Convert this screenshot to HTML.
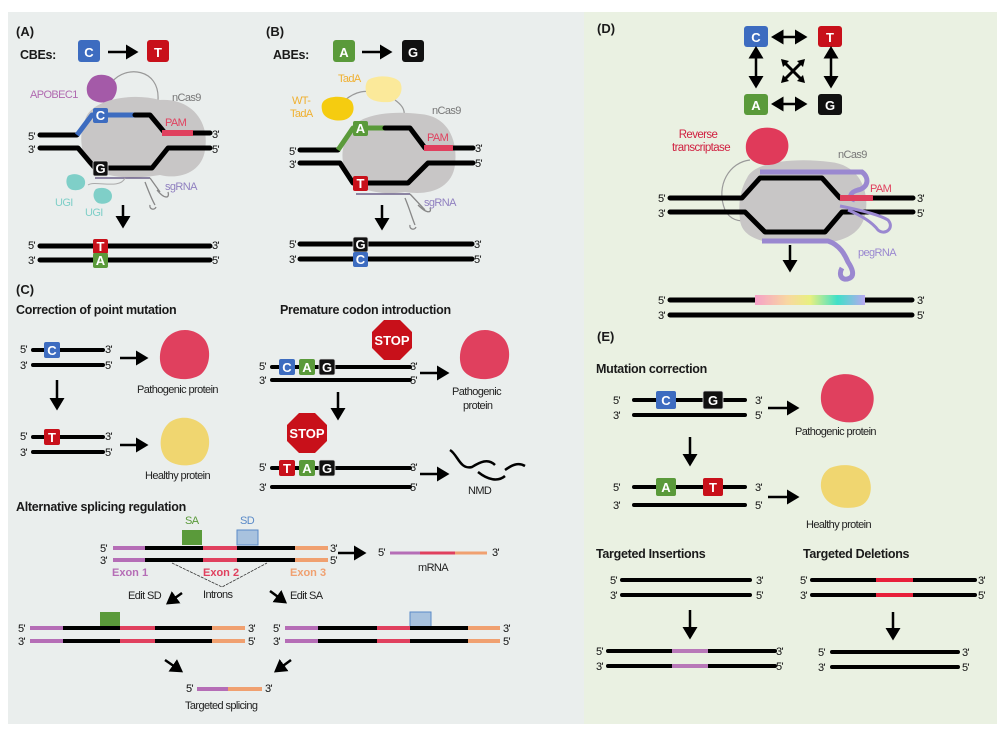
<!DOCTYPE html>
<html><head><meta charset="utf-8"><style>
html,body{margin:0;padding:0;background:#fff;}
svg{display:block;}
text{font-family:"Liberation Sans",sans-serif;}
.p{font-size:11px;fill:#111;letter-spacing:-0.6px;}
.h{font-size:12.5px;font-weight:bold;fill:#1a1a1a;letter-spacing:-0.3px;}
.lab{font-size:13px;fill:#1a1a1a;}
.n{font-size:11px;fill:#222;letter-spacing:-0.6px;}
.bx{font-size:13px;font-weight:bold;fill:#fff;text-anchor:middle;}
.bk{stroke:#000;stroke-width:5;fill:none;stroke-linecap:round;stroke-linejoin:round;}
.bk4{stroke:#000;stroke-width:4;fill:none;stroke-linecap:round;}
</style></head><body>
<svg width="1003" height="740" viewBox="0 0 1003 740" xmlns="http://www.w3.org/2000/svg">
<rect x="0" y="0" width="1003" height="740" fill="#fff"/>
<rect x="8" y="12" width="576" height="712" fill="#eaeeed"/>
<rect x="584" y="12" width="413" height="712" fill="#eaf1e2"/>
<defs>
<marker id="ah" markerWidth="6" markerHeight="6" refX="4" refY="3" orient="auto" markerUnits="strokeWidth"><path d="M0,0 L5,3 L0,6 Z" fill="#000"/></marker>
<marker id="as" markerWidth="6" markerHeight="6" refX="1" refY="3" orient="auto-start-reverse" markerUnits="strokeWidth"><path d="M0,0 L5,3 L0,6 Z" fill="#000"/></marker>
</defs>

<!-- ===== Panel A ===== -->
<text x="16" y="36" class="lab" font-weight="bold">(A)</text>
<text x="20" y="59" class="h">CBEs:</text>
<rect x="78" y="40" width="22" height="22" rx="3" fill="#3d6cc0"/><text x="89" y="57" class="bx" font-size="16">C</text>
<line x1="108" y1="52" x2="136" y2="52" stroke="#000" stroke-width="2.5" marker-end="url(#ah)"/>
<rect x="147" y="40" width="22" height="22" rx="3" fill="#c8101a"/><text x="158" y="57" class="bx" font-size="16">T</text>
<path d="M112,82 C125,65 160,68 158,100" stroke="#999" stroke-width="1.2" fill="none"/>
<path d="M90,80 C95,72 110,74 114,80 C120,86 116,100 108,102 C98,104 88,100 87,92 C86,86 88,83 90,80Z" fill="#a45aa8"/>
<text x="30" y="98" font-size="11" fill="#b06ab0" letter-spacing="-0.6">APOBEC1</text>
<path d="M85,120 C90,100 130,92 160,100 C190,98 210,120 205,150 C202,172 180,180 160,175 C130,180 95,178 85,160 C80,145 80,130 85,120Z" fill="#c8c6c6"/>
<text x="172" y="101" font-size="11" fill="#777" letter-spacing="-0.6">nCas9</text>
<path d="M40,135 L77,135" class="bk"/>
<path d="M77,135 L92,115 L135,115" stroke="#3d6cc0" stroke-width="5" fill="none" stroke-linejoin="round"/>
<path d="M135,115 L150,115 L165,133 L210,133" class="bk"/>
<line x1="162" y1="133" x2="193" y2="133" stroke="#e0405e" stroke-width="6"/>
<text x="165" y="126" font-size="11" fill="#e0405e" letter-spacing="-0.6">PAM</text>
<path d="M40,148 L78,148 L95,168 L152,168 L168,148 L210,148" class="bk"/>
<text x="28" y="140" class="p">5'</text><text x="212" y="138" class="p">3'</text>
<text x="28" y="153" class="p">3'</text><text x="212" y="153" class="p">5'</text>
<rect x="93" y="108" width="15" height="15" rx="2" fill="#3d6cc0"/><text x="100.5" y="120" class="bx" font-size="12">C</text>
<rect x="93" y="161" width="15" height="15" rx="2" fill="#111" stroke="#ddd" stroke-width="0.8"/><text x="100.5" y="173" class="bx" font-size="12">G</text>
<line x1="95" y1="178" x2="150" y2="178" stroke="#554477" stroke-width="1.2"/>
<path d="M150,178 L160,192 M145,182 C150,195 152,200 155,205 M157,190 C165,200 170,198 168,192 M150,205 a3,3 0 1 0 6,2" stroke="#888" stroke-width="1.3" fill="none"/>
<text x="165" y="190" font-size="11" fill="#9080c0" letter-spacing="-0.6">sgRNA</text>
<path d="M88,185 C95,180 120,190 125,178" stroke="#aaa" stroke-width="1" fill="none"/>
<path d="M68,176 C74,172 84,175 85,181 C86,188 80,191 73,190 C66,189 65,180 68,176Z" fill="#7fcfc8"/>
<path d="M96,189 C103,186 112,189 112,196 C112,203 104,205 98,203 C93,200 92,193 96,189Z" fill="#7fcfc8"/>
<text x="55" y="206" font-size="11" fill="#7fcfc8" letter-spacing="-0.6">UGI</text>
<text x="85" y="216" font-size="11" fill="#7fcfc8" letter-spacing="-0.6">UGI</text>
<line x1="123" y1="205" x2="123" y2="226" stroke="#000" stroke-width="2.5" marker-end="url(#ah)"/>
<path d="M40,246 L210,246 M40,260 L210,260" class="bk"/>
<text x="28" y="249" class="p">5'</text><text x="212" y="249" class="p">3'</text>
<text x="28" y="264" class="p">3'</text><text x="212" y="264" class="p">5'</text>
<rect x="93" y="239" width="15" height="15" rx="2" fill="#c8101a"/><text x="100.5" y="251" class="bx" font-size="12">T</text>
<rect x="93" y="253" width="15" height="15" rx="2" fill="#5a9a3a"/><text x="100.5" y="265" class="bx" font-size="12">A</text>

<!-- ===== Panel B ===== -->
<text x="266" y="36" class="lab" font-weight="bold">(B)</text>
<text x="273" y="59" class="h">ABEs:</text>
<rect x="333" y="40" width="22" height="22" rx="3" fill="#5a9a3a"/><text x="344" y="57" class="bx" font-size="16">A</text>
<line x1="362" y1="52" x2="390" y2="52" stroke="#000" stroke-width="2.5" marker-end="url(#ah)"/>
<rect x="402" y="40" width="22" height="22" rx="3" fill="#111"/><text x="413" y="57" class="bx" font-size="16">G</text>
<path d="M345,100 C360,88 370,92 375,92 M395,100 C402,105 405,110 404,115" stroke="#999" stroke-width="1.2" fill="none"/>
<path d="M368,80 C378,74 395,76 400,82 C404,90 400,100 390,102 C378,103 367,100 366,92 C365,86 366,83 368,80Z" fill="#fbe99a"/>
<text x="338" y="82" font-size="11" fill="#f0b030" letter-spacing="-0.6">TadA</text>
<path d="M325,100 C332,95 348,96 352,102 C356,110 352,118 344,120 C334,122 323,118 322,110 C321,105 322,102 325,100Z" fill="#f5cc10"/>
<text x="292" y="104" font-size="11" fill="#f0b030" letter-spacing="-0.6">WT-</text>
<text x="290" y="117" font-size="11" fill="#f0b030" letter-spacing="-0.6">TadA</text>
<path d="M348,135 C352,115 390,110 420,114 C448,116 458,140 455,165 C452,188 430,196 405,192 C380,196 350,190 345,170 C340,155 343,145 348,135Z" fill="#c8c6c6"/>
<text x="432" y="114" font-size="11" fill="#777" letter-spacing="-0.6">nCas9</text>
<path d="M300,150 L338,150" class="bk"/>
<path d="M338,150 L353,128 L385,128" stroke="#5a9a3a" stroke-width="5" fill="none" stroke-linejoin="round"/>
<path d="M385,128 L410,128 L425,148 L473,148" class="bk"/>
<line x1="424" y1="148" x2="453" y2="148" stroke="#e0405e" stroke-width="6"/>
<text x="427" y="141" font-size="11" fill="#e0405e" letter-spacing="-0.6">PAM</text>
<path d="M300,163 L340,163 L353,183 L408,183 L428,163 L473,163" class="bk"/>
<text x="289" y="155" class="p">5'</text><text x="475" y="152" class="p">3'</text>
<text x="289" y="168" class="p">3'</text><text x="475" y="167" class="p">5'</text>
<rect x="353" y="121" width="15" height="15" rx="2" fill="#5a9a3a"/><text x="360.5" y="133" class="bx" font-size="12">A</text>
<rect x="353" y="176" width="15" height="15" rx="2" fill="#c8101a"/><text x="360.5" y="188" class="bx" font-size="12">T</text>
<line x1="356" y1="194" x2="410" y2="194" stroke="#554477" stroke-width="1.2"/>
<path d="M410,194 L425,210 M405,198 C410,210 412,218 415,225 M418,205 C428,215 432,212 430,208 M410,225 a3,3 0 1 0 6,2" stroke="#888" stroke-width="1.3" fill="none"/>
<text x="424" y="206" font-size="11" fill="#9080c0" letter-spacing="-0.6">sgRNA</text>
<line x1="382" y1="205" x2="382" y2="228" stroke="#000" stroke-width="2.5" marker-end="url(#ah)"/>
<path d="M300,244 L472,244 M300,259 L472,259" class="bk"/>
<text x="289" y="248" class="p">5'</text><text x="474" y="248" class="p">3'</text>
<text x="289" y="263" class="p">3'</text><text x="474" y="263" class="p">5'</text>
<rect x="353" y="237" width="15" height="15" rx="2" fill="#111" stroke="#ddd" stroke-width="0.8"/><text x="360.5" y="249" class="bx" font-size="12">G</text>
<rect x="353" y="252" width="15" height="15" rx="2" fill="#3d6cc0"/><text x="360.5" y="264" class="bx" font-size="12">C</text>

<!-- ===== Panel C ===== -->
<text x="16" y="294" class="lab" font-weight="bold">(C)</text>
<text x="16" y="314" class="h">Correction of point mutation</text>
<text x="280" y="314" class="h">Premature codon introduction</text>
<path d="M33,350 L103,350 M33,365 L103,365" class="bk4"/>
<rect x="44" y="342" width="16" height="16" rx="2" fill="#3d6cc0"/><text x="52" y="355" class="bx" font-size="12">C</text>
<text x="20" y="353" class="p">5'</text><text x="105" y="353" class="p">3'</text>
<text x="20" y="369" class="p">3'</text><text x="105" y="369" class="p">5'</text>
<line x1="120" y1="358" x2="146" y2="358" stroke="#000" stroke-width="2.5" marker-end="url(#ah)"/>
<path d="M170,335 C182,326 198,330 205,340 C212,350 210,368 200,375 C188,382 170,380 163,370 C157,360 160,342 170,335Z" fill="#e0405e"/>
<text x="137" y="393" font-size="11" fill="#222" letter-spacing="-0.6">Pathogenic protein</text>
<line x1="57" y1="380" x2="57" y2="408" stroke="#000" stroke-width="2.5" marker-end="url(#ah)"/>
<path d="M33,437 L103,437 M33,452 L103,452" class="bk4"/>
<rect x="44" y="429" width="16" height="16" rx="2" fill="#c8101a"/><text x="52" y="442" class="bx" font-size="12">T</text>
<text x="20" y="440" class="p">5'</text><text x="105" y="440" class="p">3'</text>
<text x="20" y="456" class="p">3'</text><text x="105" y="456" class="p">5'</text>
<line x1="120" y1="445" x2="146" y2="445" stroke="#000" stroke-width="2.5" marker-end="url(#ah)"/>
<path d="M170,422 C182,414 198,418 205,428 C212,438 210,455 200,462 C188,468 170,466 164,456 C158,446 160,430 170,422Z" fill="#f0d670"/>
<text x="145" y="479" font-size="11" fill="#222" letter-spacing="-0.6">Healthy protein</text>

<path d="M272,367 L410,367 M272,380 L410,380" class="bk4"/>
<rect x="279" y="359" width="16" height="16" rx="2" fill="#3d6cc0"/><text x="287" y="372" class="bx" font-size="12">C</text>
<rect x="299" y="359" width="16" height="16" rx="2" fill="#5a9a3a"/><text x="307" y="372" class="bx" font-size="12">A</text>
<rect x="319" y="359" width="16" height="16" rx="2" fill="#111" stroke="#ddd" stroke-width="0.8"/><text x="327" y="372" class="bx" font-size="12">G</text>
<text x="259" y="370" class="p">5'</text><text x="410" y="370" class="p">3'</text>
<text x="259" y="384" class="p">3'</text><text x="410" y="384" class="p">5'</text>
<polygon points="384,320 400,320 412,332 412,348 400,360 384,360 372,348 372,332" fill="#c8101a"/>
<text x="392" y="345" class="bx" font-size="11">STOP</text>
<line x1="420" y1="373" x2="447" y2="373" stroke="#000" stroke-width="2.5" marker-end="url(#ah)"/>
<path d="M470,335 C482,326 498,330 505,340 C512,350 510,368 500,375 C488,382 470,380 463,370 C457,360 460,342 470,335Z" fill="#e0405e"/>
<text x="452" y="395" font-size="11" fill="#222" letter-spacing="-0.6">Pathogenic</text>
<text x="463" y="409" font-size="11" fill="#222" letter-spacing="-0.6">protein</text>
<line x1="338" y1="392" x2="338" y2="418" stroke="#000" stroke-width="2.5" marker-end="url(#ah)"/>
<polygon points="299,413 315,413 327,425 327,441 315,453 299,453 287,441 287,425" fill="#c8101a"/>
<text x="307" y="438" class="bx" font-size="11">STOP</text>
<path d="M272,468 L410,468 M272,487 L410,487" class="bk4"/>
<rect x="279" y="460" width="16" height="16" rx="2" fill="#c8101a"/><text x="287" y="473" class="bx" font-size="12">T</text>
<rect x="299" y="460" width="16" height="16" rx="2" fill="#5a9a3a"/><text x="307" y="473" class="bx" font-size="12">A</text>
<rect x="319" y="460" width="16" height="16" rx="2" fill="#111" stroke="#ddd" stroke-width="0.8"/><text x="327" y="473" class="bx" font-size="12">G</text>
<text x="259" y="471" class="p">5'</text><text x="410" y="471" class="p">3'</text>
<text x="259" y="491" class="p">3'</text><text x="410" y="491" class="p">5'</text>
<line x1="420" y1="474" x2="447" y2="474" stroke="#000" stroke-width="2.5" marker-end="url(#ah)"/>
<path d="M450,450 C458,455 460,470 472,467 C480,462 488,458 495,465 M478,472 C488,480 498,482 505,476 M505,470 C512,465 518,462 525,466" stroke="#000" stroke-width="2.5" fill="none"/>
<text x="468" y="494" font-size="11" fill="#222" letter-spacing="-0.6">NMD</text>

<text x="16" y="511" class="h">Alternative splicing regulation</text>
<text x="185" y="524" font-size="11" fill="#5a9a3a" letter-spacing="-0.6">SA</text>
<rect x="182" y="530" width="20" height="15" fill="#5a9a3a"/>
<text x="240" y="524" font-size="11" fill="#5a8ac8" letter-spacing="-0.6">SD</text>
<rect x="237" y="530" width="21" height="15" fill="#a8c2de" stroke="#5a8ac8" stroke-width="1"/>
<g stroke-width="4" fill="none">
<path d="M113,548 L145,548 M113,560 L145,560" stroke="#b56db6"/>
<path d="M145,548 L203,548 M237,548 L295,548 M145,560 L203,560 M237,560 L295,560" stroke="#000"/>
<path d="M203,548 L237,548 M203,560 L237,560" stroke="#e0405e"/>
<path d="M295,548 L328,548 M295,560 L328,560" stroke="#f0a070"/>
</g>
<text x="100" y="552" class="p">5'</text><text x="330" y="552" class="p">3'</text>
<text x="100" y="564" class="p">3'</text><text x="330" y="564" class="p">5'</text>
<text x="112" y="576" font-size="11" font-weight="bold" fill="#b56db6">Exon 1</text>
<text x="203" y="576" font-size="11" font-weight="bold" fill="#e0405e">Exon 2</text>
<text x="290" y="576" font-size="11" font-weight="bold" fill="#f0a070">Exon 3</text>
<path d="M172,563 L222,587 L267,563" stroke="#333" stroke-width="0.8" fill="none" stroke-dasharray="3,1"/>
<text x="203" y="598" font-size="11" fill="#222" letter-spacing="-0.6">Introns</text>
<line x1="338" y1="553" x2="364" y2="553" stroke="#000" stroke-width="2.5" marker-end="url(#ah)"/>
<text x="378" y="556" class="p">5'</text>
<g stroke-width="3" fill="none"><path d="M390,553 L420,553" stroke="#b56db6"/><path d="M420,553 L455,553" stroke="#e0405e"/><path d="M455,553 L487,553" stroke="#f0a070"/></g>
<text x="492" y="556" class="p">3'</text>
<text x="418" y="571" font-size="11" fill="#222" letter-spacing="-0.6">mRNA</text>
<text x="128" y="599" font-size="11" fill="#222" letter-spacing="-0.6">Edit SD</text>
<line x1="182" y1="593" x2="168" y2="603" stroke="#000" stroke-width="2.5" marker-end="url(#ah)"/>
<line x1="270" y1="591" x2="285" y2="602" stroke="#000" stroke-width="2.5" marker-end="url(#ah)"/>
<text x="290" y="599" font-size="11" fill="#222" letter-spacing="-0.6">Edit SA</text>
<rect x="100" y="612" width="20" height="16" fill="#5a9a3a"/>
<g stroke-width="4" fill="none">
<path d="M30,628 L63,628 M30,641 L63,641" stroke="#b56db6"/>
<path d="M63,628 L120,628 M155,628 L212,628 M63,641 L120,641 M155,641 L212,641" stroke="#000"/>
<path d="M120,628 L155,628 M120,641 L155,641" stroke="#e0405e"/>
<path d="M212,628 L245,628 M212,641 L245,641" stroke="#f0a070"/>
</g>
<text x="18" y="632" class="p">5'</text><text x="248" y="632" class="p">3'</text>
<text x="18" y="645" class="p">3'</text><text x="248" y="645" class="p">5'</text>
<rect x="410" y="612" width="21" height="16" fill="#a8c2de" stroke="#5a8ac8" stroke-width="1"/>
<g stroke-width="4" fill="none">
<path d="M285,628 L318,628 M285,641 L318,641" stroke="#b56db6"/>
<path d="M318,628 L377,628 M410,628 L468,628 M318,641 L377,641 M410,641 L468,641" stroke="#000"/>
<path d="M377,628 L410,628 M377,641 L410,641" stroke="#e0405e"/>
<path d="M468,628 L500,628 M468,641 L500,641" stroke="#f0a070"/>
</g>
<text x="273" y="632" class="p">5'</text><text x="503" y="632" class="p">3'</text>
<text x="273" y="645" class="p">3'</text><text x="503" y="645" class="p">5'</text>
<line x1="165" y1="660" x2="181" y2="671" stroke="#000" stroke-width="2.5" marker-end="url(#ah)"/>
<line x1="291" y1="660" x2="276" y2="671" stroke="#000" stroke-width="2.5" marker-end="url(#ah)"/>
<text x="186" y="692" class="p">5'</text>
<g stroke-width="4" fill="none"><path d="M197,689 L228,689" stroke="#b56db6"/><path d="M228,689 L262,689" stroke="#f0a070"/></g>
<text x="265" y="692" class="p">3'</text>
<text x="185" y="709" font-size="11" fill="#222" letter-spacing="-0.6">Targeted splicing</text>

<!-- ===== Panel D ===== -->
<text x="597" y="33" class="lab" font-weight="bold">(D)</text>
<rect x="744" y="26" width="24" height="21" rx="3" fill="#3d6cc0"/><text x="756" y="42" class="bx" font-size="15">C</text>
<rect x="818" y="26" width="24" height="21" rx="3" fill="#c8101a"/><text x="830" y="42" class="bx" font-size="15">T</text>
<rect x="744" y="94" width="24" height="21" rx="3" fill="#5a9a3a"/><text x="756" y="110" class="bx" font-size="15">A</text>
<rect x="818" y="94" width="24" height="21" rx="3" fill="#111"/><text x="830" y="110" class="bx" font-size="15">G</text>
<g stroke="#000" stroke-width="2.5" marker-start="url(#as)" marker-end="url(#ah)">
<line x1="781" y1="37" x2="805" y2="37"/><line x1="781" y1="104" x2="805" y2="104"/>
<line x1="756" y1="56" x2="756" y2="86"/><line x1="831" y1="56" x2="831" y2="86"/>
</g>
<g stroke="#000" stroke-width="3"><line x1="784" y1="62" x2="802" y2="80"/><line x1="802" y1="62" x2="784" y2="80"/></g>
<g fill="#000"><polygon points="781,59 789,61 783,67"/><polygon points="805,59 797,61 803,67"/><polygon points="781,83 789,81 783,75"/><polygon points="805,83 797,81 803,75"/></g>
<text x="698" y="138" font-size="11.5" fill="#d02040" text-anchor="middle" letter-spacing="-0.6">Reverse</text>
<text x="701" y="151" font-size="11.5" fill="#d02040" text-anchor="middle" letter-spacing="-0.6">transcriptase</text>
<path d="M750,160 C730,162 715,185 725,210 C730,220 740,222 745,220" stroke="#999" stroke-width="1.2" fill="none"/>
<path d="M747,178 C755,160 800,158 830,162 C862,165 870,195 865,215 C860,240 830,246 800,242 C770,246 742,240 740,220 C738,205 740,190 747,178Z" fill="#c8c6c6"/>
<path d="M752,133 C760,125 778,126 785,135 C792,145 788,160 775,164 C760,168 747,160 746,150 C745,142 748,137 752,133Z" fill="#e03a5a"/>
<text x="838" y="158" font-size="11" fill="#777" letter-spacing="-0.6">nCas9</text>
<path d="M760,172 L862,172 C870,178 868,188 858,190 C850,192 848,198 855,200" stroke="#9a88d0" stroke-width="5" fill="none"/>
<path d="M670,198 L742,198 L760,178 L822,178 L840,198 L913,198" class="bk"/>
<line x1="840" y1="198" x2="873" y2="198" stroke="#e0405e" stroke-width="6"/>
<text x="870" y="192" font-size="11" fill="#e0405e" letter-spacing="-0.6">PAM</text>
<path d="M670,212 L745,212 L765,232 L825,232 L842,212 L913,212" class="bk"/>
<path d="M840,206 C860,210 880,215 888,220 C895,228 885,236 878,230 C872,222 860,215 848,210" stroke="#9a88d0" stroke-width="3" fill="none"/>
<path d="M762,241 L828,241 C840,245 845,255 848,262 C852,268 855,275 850,278 C842,282 838,275 842,268" stroke="#9a88d0" stroke-width="5" fill="none"/>
<text x="858" y="256" font-size="11" fill="#9a88d0" letter-spacing="-0.6">pegRNA</text>
<text x="658" y="202" class="p">5'</text><text x="917" y="202" class="p">3'</text>
<text x="658" y="217" class="p">3'</text><text x="917" y="217" class="p">5'</text>
<line x1="790" y1="245" x2="790" y2="270" stroke="#000" stroke-width="2.5" marker-end="url(#ah)"/>
<defs><linearGradient id="rb" x1="0" x2="1"><stop offset="0" stop-color="#f6a0c8"/><stop offset="0.3" stop-color="#f8d8a0"/><stop offset="0.5" stop-color="#e8f080"/><stop offset="0.75" stop-color="#40e0c8"/><stop offset="1" stop-color="#b8a8f0"/></linearGradient></defs>
<path d="M670,300 L912,300 M670,315 L912,315" class="bk"/>
<rect x="755" y="295" width="110" height="10" fill="url(#rb)"/>
<text x="658" y="304" class="p">5'</text><text x="917" y="304" class="p">3'</text>
<text x="658" y="319" class="p">3'</text><text x="917" y="319" class="p">5'</text>

<!-- ===== Panel E ===== -->
<text x="597" y="341" class="lab" font-weight="bold">(E)</text>
<text x="596" y="373" class="h">Mutation correction</text>
<path d="M634,400 L745,400 M634,415 L745,415" class="bk4"/>
<rect x="656" y="391" width="20" height="18" rx="2" fill="#3d6cc0"/><text x="666" y="405" class="bx" font-size="13">C</text>
<rect x="703" y="391" width="20" height="18" rx="2" fill="#111" stroke="#ddd" stroke-width="0.8"/><text x="713" y="405" class="bx" font-size="13">G</text>
<text x="613" y="404" class="p">5'</text><text x="755" y="404" class="p">3'</text>
<text x="613" y="419" class="p">3'</text><text x="755" y="419" class="p">5'</text>
<line x1="768" y1="408" x2="797" y2="408" stroke="#000" stroke-width="2.5" marker-end="url(#ah)"/>
<path d="M830,378 C845,370 862,375 870,386 C878,398 872,415 862,420 C850,425 833,422 825,412 C818,402 820,385 830,378Z" fill="#e0405e"/>
<text x="795" y="435" font-size="11" fill="#222" letter-spacing="-0.6">Pathogenic protein</text>
<line x1="690" y1="437" x2="690" y2="464" stroke="#000" stroke-width="2.5" marker-end="url(#ah)"/>
<path d="M634,487 L745,487 M634,505 L745,505" class="bk4"/>
<rect x="656" y="478" width="20" height="18" rx="2" fill="#5a9a3a"/><text x="666" y="492" class="bx" font-size="13">A</text>
<rect x="703" y="478" width="20" height="18" rx="2" fill="#c8101a"/><text x="713" y="492" class="bx" font-size="13">T</text>
<text x="613" y="491" class="p">5'</text><text x="755" y="491" class="p">3'</text>
<text x="613" y="509" class="p">3'</text><text x="755" y="509" class="p">5'</text>
<line x1="768" y1="497" x2="797" y2="497" stroke="#000" stroke-width="2.5" marker-end="url(#ah)"/>
<path d="M830,468 C845,462 862,466 868,476 C874,488 870,502 860,506 C848,510 832,508 825,498 C818,488 820,474 830,468Z" fill="#f0d670"/>
<text x="806" y="528" font-size="11" fill="#222" letter-spacing="-0.6">Healthy protein</text>
<text x="596" y="558" class="h">Targeted Insertions</text>
<text x="803" y="558" class="h">Targeted Deletions</text>
<path d="M622,580 L750,580 M622,595 L750,595" class="bk4"/>
<text x="610" y="584" class="p">5'</text><text x="756" y="584" class="p">3'</text>
<text x="610" y="599" class="p">3'</text><text x="756" y="599" class="p">5'</text>
<line x1="690" y1="610" x2="690" y2="637" stroke="#000" stroke-width="2.5" marker-end="url(#ah)"/>
<path d="M608,651 L775,651 M608,666 L775,666" class="bk4"/>
<path d="M672,651 L708,651 M672,666 L708,666" stroke="#b878b8" stroke-width="4"/>
<text x="596" y="655" class="p">5'</text><text x="776" y="655" class="p">3'</text>
<text x="596" y="670" class="p">3'</text><text x="776" y="670" class="p">5'</text>
<path d="M812,580 L975,580 M812,595 L975,595" class="bk4"/>
<path d="M876,580 L913,580 M876,595 L913,595" stroke="#e8203a" stroke-width="4"/>
<text x="800" y="584" class="p">5'</text><text x="978" y="584" class="p">3'</text>
<text x="800" y="599" class="p">3'</text><text x="978" y="599" class="p">5'</text>
<line x1="893" y1="612" x2="893" y2="638" stroke="#000" stroke-width="2.5" marker-end="url(#ah)"/>
<path d="M832,652 L958,652 M832,667 L958,667" class="bk4"/>
<text x="818" y="656" class="p">5'</text><text x="962" y="656" class="p">3'</text>
<text x="818" y="671" class="p">3'</text><text x="962" y="671" class="p">5'</text>
</svg>
</body></html>
